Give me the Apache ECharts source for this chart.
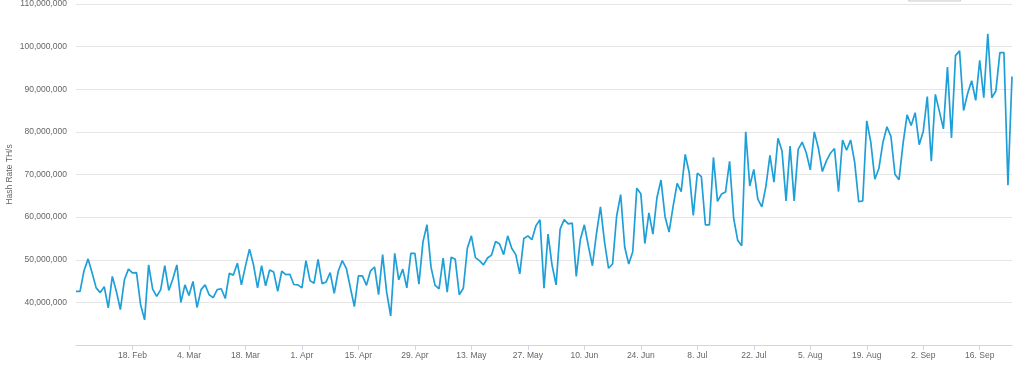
<!DOCTYPE html>
<html>
<head>
<meta charset="utf-8">
<script src="https://cdn.jsdelivr.net/npm/echarts@6/dist/echarts.min.js"></script>
<style>
html,body{margin:0;padding:0;background:#fff;}
#chart{width:1024px;height:374px;}
</style>
</head>
<body>
<div id="chart"></div>
<script>
// Daily hash rate (millions of TH/s), 4 Feb -> 24 Sep
const startDate = [2019, 1, 4]; // year, monthIndex, day
const hashRateM = [
42.6,42.6,47.5,50.2,46.9,43.4,42.3,43.7,38.7,46.1,
42.6,38.3,45.3,47.8,46.9,47.0,39.5,35.9,48.8,43.1,
41.4,43.0,48.6,42.8,45.5,48.8,40.0,44.1,41.6,44.9,
38.8,43.0,44.1,41.8,41.1,43.0,43.2,40.9,46.8,46.4,
49.2,44.1,48.5,52.5,48.8,43.4,48.6,43.9,47.6,47.1,
42.6,47.3,46.5,46.6,44.2,44.1,43.4,49.8,45.1,44.5,
50.1,44.4,44.8,47.0,42.1,47.3,49.8,48.0,43.5,39.0,
46.2,46.2,44.0,47.4,48.3,41.8,51.2,42.4,36.8,51.5,
45.3,47.8,43.4,51.5,51.5,44.3,54.2,58.2,48.2,44.0,
43.2,50.4,42.4,50.6,50.1,41.8,43.3,52.7,55.6,50.5,
49.8,48.8,50.4,51.1,54.3,53.7,51.2,55.6,52.7,51.2,
46.7,55.0,55.6,54.7,58.0,59.4,43.3,56.0,48.7,44.1,
57.2,59.4,58.4,58.6,46.1,54.7,58.2,53.2,48.6,56.1,
62.4,54.2,48.0,49.0,60.2,65.3,53.0,49.0,51.9,66.8,
65.5,53.8,61.0,56.0,64.6,68.7,60.1,56.5,62.5,67.9,
66.0,74.7,70.4,60.4,70.3,69.5,58.2,58.2,74.0,63.7,
65.4,65.9,73.1,59.8,54.6,53.3,80.0,67.3,71.2,64.2,
62.4,67.2,74.5,68.2,78.5,75.5,63.8,76.7,63.8,75.9,
77.6,75.1,71.1,80.0,76.2,70.7,73.2,75.0,76.1,66.0,
78.1,75.7,78.1,72.9,63.6,63.8,82.6,77.6,68.9,71.4,
77.5,81.2,78.9,70.0,68.8,77.3,84.0,81.5,84.5,77.0,
80.1,88.3,73.1,88.8,84.8,80.7,95.2,78.6,97.9,99.0,
85.0,89.0,92.0,87.4,96.8,88.0,103.0,88.0,89.6,98.6,
98.6,67.5,93.0
];
const tickLabels = ['18. Feb','4. Mar','18. Mar','1. Apr','15. Apr','29. Apr','13. May','27. May','10. Jun','24. Jun','8. Jul','22. Jul','5. Aug','19. Aug','2. Sep','16. Sep'];
const yTicksM = [30,40,50,60,70,80,90,100,110];
const yAxisTitle = 'Hash Rate TH/s';

const monthNames = ['Jan','Feb','Mar','Apr','May','Jun','Jul','Aug','Sep','Oct','Nov','Dec'];
const categories = hashRateM.map((_, i) => {
  const d = new Date(Date.UTC(startDate[0], startDate[1], startDate[2] + i));
  return d.getUTCDate() + '. ' + monthNames[d.getUTCMonth()];
});
const tickSet = new Set(tickLabels);
const showTick = (idx, val) => tickSet.has(categories[idx]);

const font = '"Liberation Sans", Arial, sans-serif';
const chart = echarts.init(document.getElementById('chart'), null, {renderer: 'canvas'});
chart.setOption({
  animation: false,
  backgroundColor: '#ffffff',
  grid: {left: 76, right: 12, top: 4, bottom: 29, containLabel: false, outerBoundsMode: 'none'},
  xAxis: {
    type: 'category',
    data: categories,
    boundaryGap: false,
    axisLine: {lineStyle: {color: '#ccd6eb', width: 1}},
    axisTick: {show: true, interval: showTick, length: 5, lineStyle: {color: '#ccd6eb'}},
    axisLabel: {interval: showTick, color: '#666666', fontSize: 8.5, fontFamily: font, margin: 6},
    splitLine: {show: false}
  },
  yAxis: {
    type: 'value',
    min: yTicksM[0],
    max: yTicksM[yTicksM.length - 1],
    interval: 10,
    name: yAxisTitle,
    nameLocation: 'middle',
    nameRotate: 90,
    nameGap: 62,
    nameMoveOverlap: false,
    nameTextStyle: {color: '#666666', fontSize: 8.5, fontFamily: font},
    axisLine: {show: false},
    axisTick: {show: false},
    axisLabel: {
      color: '#666666', fontSize: 8.5, fontFamily: font, margin: 9,
      formatter: v => v === yTicksM[0] ? '' : String(v) + ',000,000'
    },
    splitLine: {lineStyle: {color: '#e6e6e6', width: 1}}
  },
  graphic: [{
    type: 'rect',
    shape: {x: 908.5, y: -10, width: 52, height: 11},
    style: {fill: '#f7f7f7', stroke: '#cccccc', lineWidth: 1}
  }],
  series: [{
    type: 'line',
    data: hashRateM,
    showSymbol: false,
    symbol: 'none',
    lineStyle: {color: '#1e9fd8', width: 1.7},
    itemStyle: {color: '#1e9fd8'}
  }]
});
</script>
</body>
</html>
